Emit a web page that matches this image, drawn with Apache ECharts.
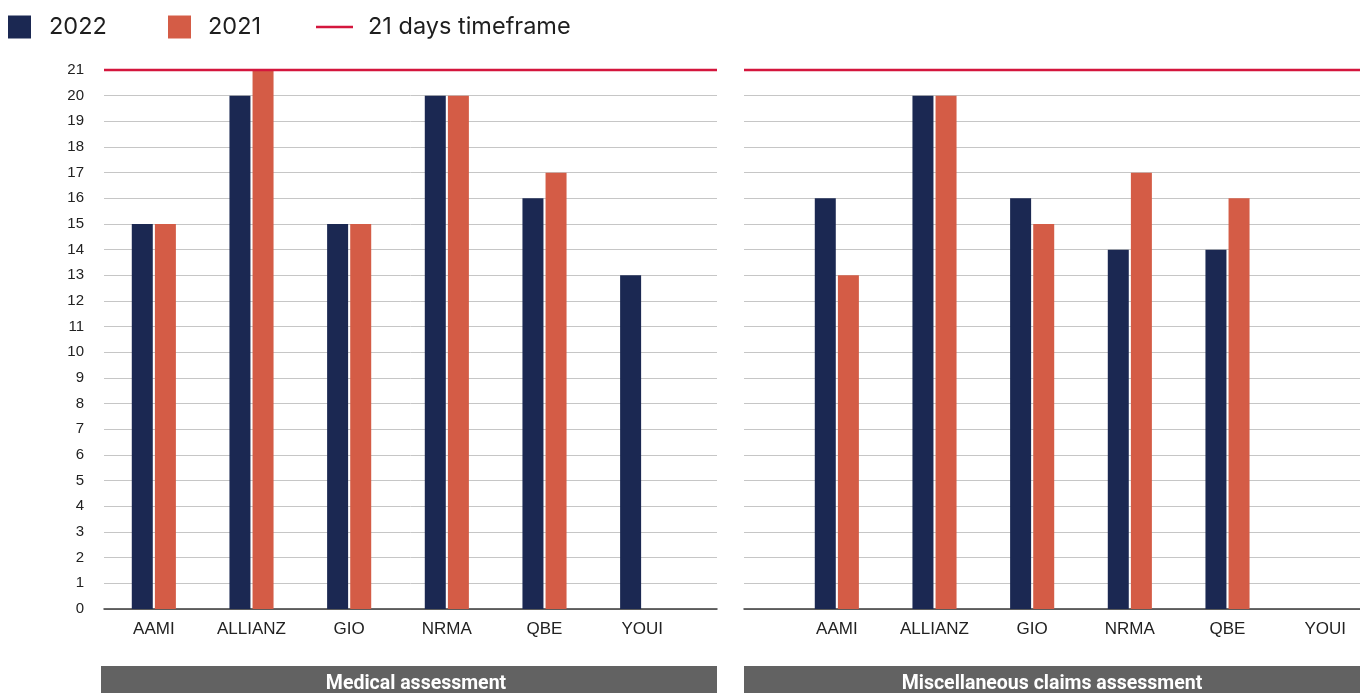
<!DOCTYPE html>
<html><head><meta charset="utf-8">
<script src="https://cdn.jsdelivr.net/npm/echarts@6/dist/echarts.min.js"></script>
<style>html,body{margin:0;padding:0;background:#fff}#c{width:1360px;height:693px}</style>
</head><body><div id="c"></div>
<script>
const categories = ['AAMI', 'ALLIANZ', 'GIO', 'NRMA', 'QBE', 'YOUI'];
const medical2022 = [15, 20, 15, 20, 16, 13];
const medical2021 = [15, 21, 15, 20, 17, null];
const misc2022 = [16, 20, 16, 14, 14, null];
const misc2021 = [13, 20, 15, 17, 16, null];
const timeframeDays = 21;
const seriesNames = ['2022', '2021'];
const timeframeName = '21 days timeframe';
const panelTitles = ['Medical assessment', 'Miscellaneous claims assessment'];

(function () {
const NAVY = '#1b2852', ORANGE = '#d45c46', RED = '#d4163d';
const chart = echarts.init(document.getElementById('c'), null, {renderer: 'canvas'});

const gTop = 70, gBottom = 84;
const gBase = {top: gTop, bottom: gBottom, containLabel: false, outerBoundsMode: 'none'};
const grids = [
  Object.assign({left: 104, width: 613}, gBase),
  Object.assign({left: 105, width: 586}, gBase),
  Object.assign({left: 744, width: 616}, gBase),
  Object.assign({left: 788, width: 586}, gBase)
];
function bgX(gi) {
  return {type: 'value', gridIndex: gi, min: 0, max: 1, axisLabel: {show: false}, splitLine: {show: false}, axisTick: {show: false},
    axisLine: {show: true, lineStyle: {color: '#3a3a3a', width: 1.5}}};
}
function barX(gi) {
  return {type: 'category', gridIndex: gi, data: categories, axisLine: {show: false}, axisTick: {show: false},
    axisLabel: {margin: 12, color: '#222', fontSize: 17, fontFamily: 'Liberation Sans, Arial, sans-serif'}};
}
function bgY(gi, labels) {
  return {type: 'value', gridIndex: gi, min: 0, max: timeframeDays, interval: 1,
    axisLine: {show: false}, axisTick: {show: false},
    axisLabel: {show: labels, margin: 20, color: '#222', fontSize: 15, fontFamily: 'Liberation Sans, Arial, sans-serif'},
    splitLine: {show: true, lineStyle: {color: '#c6c6c6', width: 1}}};
}
function barY(gi) {
  return {type: 'value', gridIndex: gi, min: 0, max: timeframeDays, interval: 1, show: false, splitLine: {show: false}};
}
function bar(name, data, xi, color) {
  return {type: 'bar', name, data, xAxisIndex: xi, yAxisIndex: xi, barWidth: 21, barGap: '10%',
    itemStyle: {color}, z: 2, silent: true};
}
function tline(xi) {
  return {type: 'line', name: timeframeName, xAxisIndex: xi, yAxisIndex: xi, data: [[0, timeframeDays], [1, timeframeDays]],
    symbol: 'none', clip: false, z: 5, silent: true, lineStyle: {color: RED, width: 2.5}, itemStyle: {color: RED}};
}
const legendText = {color: '#1e1e1e', fontSize: 23.5, fontFamily: 'Inter, Roboto, sans-serif', lineHeight: 24};
chart.setOption({
  animation: false,
  backgroundColor: '#fff',
  legend: [
    {left: 8, top: 15, padding: 0, data: [seriesNames[0]], icon: 'rect', itemWidth: 23, itemHeight: 23,
      textStyle: Object.assign({padding: [0, 0, 0, 13]}, legendText), selectedMode: false},
    {left: 168, top: 15, padding: 0, data: [seriesNames[1]], icon: 'rect', itemWidth: 23, itemHeight: 23,
      textStyle: Object.assign({padding: [0, 0, 0, 12]}, legendText), selectedMode: false},
    {left: 316, top: 15, padding: 0, data: [timeframeName], icon: 'rect', itemWidth: 37, itemHeight: 2.5,
      textStyle: Object.assign({padding: [0, 0, 0, 10]}, legendText), selectedMode: false}
  ],
  grid: grids,
  xAxis: [bgX(0), barX(1), bgX(2), barX(3)],
  yAxis: [bgY(0, true), barY(1), bgY(2, false), barY(3)],
  series: [
    bar(seriesNames[0], medical2022, 1, NAVY),
    bar(seriesNames[1], medical2021, 1, ORANGE),
    bar(seriesNames[0], misc2022, 3, NAVY),
    bar(seriesNames[1], misc2021, 3, ORANGE),
    tline(0),
    tline(2)
  ],
  graphic: [
    {type: 'rect', left: 101, top: 666, shape: {width: 616, height: 30}, style: {fill: '#626262'}},
    {type: 'rect', left: 744, top: 666, shape: {width: 616, height: 30}, style: {fill: '#626262'}},
    {type: 'text', x: 416, y: 684, style: {text: panelTitles[0], fill: '#fff', font: 'bold 19.5px Roboto, sans-serif', textAlign: 'center', textVerticalAlign: 'middle', align: 'center', verticalAlign: 'middle'}},
    {type: 'text', x: 1052, y: 684, style: {text: panelTitles[1], fill: '#fff', font: 'bold 19.5px Roboto, sans-serif', textAlign: 'center', textVerticalAlign: 'middle', align: 'center', verticalAlign: 'middle'}}
  ]
});
})();
</script></body></html>
